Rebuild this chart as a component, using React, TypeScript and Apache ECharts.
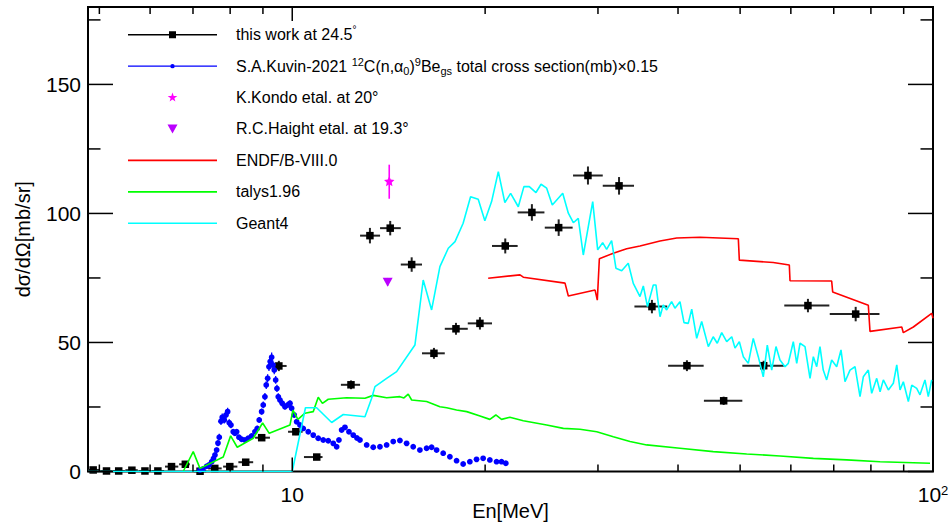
import React, { useEffect, useRef } from 'react';
import * as echarts from 'echarts';

const FONT = "'Liberation Sans', Arial, Helvetica, sans-serif";

// ---------- axis ranges & ticks ----------
const X_MIN = 4.8;
const X_MAX = 100;
const Y_MIN = 0;
const Y_MAX = 180;
const Y_INTERVAL = 50;
const xMajorTicks = [10, 100];
const xMinorTicks = [5, 6, 7, 8, 9, 20, 30, 40, 50, 60, 70, 80, 90];
const yMajorTicks = [0, 50, 100, 150];
const yMinorTicks = [25, 75, 125, 175];

// ---------- this work at 24.5 deg ----------
const thisWorkE = [4.89, 5.13, 5.36, 5.62, 5.89, 6.17, 6.48, 6.81, 7.18, 7.57, 7.99, 8.46, 8.96, 9.53, 10.13, 10.92, 12.35, 13.22, 14.22, 15.36, 16.64, 18.01, 19.63, 21.5, 23.66, 26.05, 28.94, 32.36, 36.42, 41.3, 47.13, 54.42, 63.8, 75.74];
const thisWorkELow = [4.8, 5.02, 5.25, 5.49, 5.76, 6.03, 6.33, 6.66, 7.02, 7.39, 7.8, 8.24, 8.75, 9.33, 9.85, 10.43, 11.91, 12.76, 13.71, 14.77, 15.94, 17.3, 18.79, 20.5, 22.48, 24.78, 27.43, 30.52, 34.2, 38.6, 43.9, 50.4, 58.6, 69.0];
const thisWorkEHigh = [5.0, 5.24, 5.48, 5.74, 6.02, 6.31, 6.64, 6.92, 7.34, 7.76, 8.21, 8.69, 9.23, 9.8, 10.38, 11.15, 12.76, 13.71, 14.77, 15.94, 17.3, 18.79, 20.5, 22.48, 24.75, 27.39, 30.52, 34.15, 38.48, 43.86, 50.4, 58.5, 68.9, 82.5];
const thisWorkXS = [0.6, 0.2, 0.2, 0.5, 0.2, 0.2, 1.9, 2.8, 0.1, 1.2, 1.9, 3.6, 13.1, 40.9, 15.4, 5.6, 33.6, 91.4, 94.3, 80.2, 45.8, 55.3, 57.4, 87.4, 100.4, 94.5, 114.7, 110.7, 63.9, 41.0, 27.4, 41.0, 64.3, 61.0];
const thisWorkErr = [0.3, 0.3, 0.3, 0.3, 0.3, 0.3, 0.6, 0.8, 0.3, 0.5, 0.6, 0.8, 1.2, 2.0, 1.3, 0.8, 1.7, 3.0, 2.8, 2.8, 2.1, 2.3, 2.4, 2.9, 3.2, 3.2, 3.5, 3.4, 2.6, 2.1, 1.6, 1.9, 2.6, 2.8];

// ---------- S.A.Kuvin-2021 (x0.15) ----------
const kuvinE = [7.178, 7.256, 7.353, 7.414, 7.486, 7.535, 7.575, 7.621, 7.657, 7.693, 7.74, 7.776, 7.832, 7.88, 7.928, 7.974, 8.023, 8.089, 8.139, 8.189, 8.257, 8.337, 8.437, 8.537, 8.642, 8.745, 8.818, 8.881, 8.958, 9.01, 9.065, 9.108, 9.154, 9.197, 9.24, 9.287, 9.331, 9.374, 9.422, 9.465, 9.51, 9.568, 9.647, 9.741, 9.836, 9.918, 9.978, 10.072, 10.159, 10.281, 10.403, 10.592, 10.784, 10.979, 11.178, 11.381, 11.587, 11.73, 11.827, 11.942, 12.085, 12.26, 12.451, 12.618, 12.755, 13.066, 13.379, 13.705, 14.038, 14.375, 14.725, 15.083, 15.445, 15.821, 16.206, 16.5, 16.799, 17.202, 17.621, 18.049, 18.482, 18.932, 19.393, 19.858, 20.342, 20.837, 21.214, 21.545];
const kuvinXS = [0.6, 1.0, 2.0, 2.5, 3.8, 5.0, 6.4, 8.3, 11.0, 13.3, 19.5, 21.0, 20.0, 21.9, 23.2, 18.9, 18.0, 15.4, 14.8, 15.4, 13.3, 12.5, 12.2, 12.9, 13.8, 15.4, 16.7, 20.0, 23.2, 25.8, 29.0, 33.5, 36.1, 40.6, 42.6, 44.3, 41.3, 39.3, 35.5, 32.2, 29.0, 27.7, 26.4, 25.1, 25.8, 26.4, 24.5, 21.9, 19.3, 18.0, 16.7, 15.4, 14.1, 12.9, 12.2, 11.9, 10.9, 9.6, 12.2, 16.1, 17.1, 15.4, 14.1, 13.0, 12.2, 10.3, 9.4, 9.6, 10.3, 11.6, 12.0, 10.9, 9.6, 8.3, 9.0, 9.4, 8.3, 7.1, 5.7, 4.2, 2.9, 3.8, 4.7, 5.1, 4.5, 3.8, 3.8, 3.2];
const kuvinErr = [0.4, 0.5, 0.6, 0.6, 0.7, 0.8, 0.9, 1.0, 1.2, 1.3, 1.5, 1.5, 1.4, 1.5, 1.5, 1.3, 1.2, 1.1, 1.0, 1.0, 0.9, 0.9, 0.8, 0.8, 0.9, 0.9, 1.0, 1.1, 1.2, 1.3, 1.4, 1.5, 1.6, 1.7, 1.8, 1.8, 1.7, 1.6, 1.5, 1.4, 1.3, 1.2, 1.2, 1.1, 1.2, 1.2, 1.1, 1.0, 0.9, 0.9, 0.8, 0.8, 0.7, 0.7, 0.7, 0.6, 0.6, 0.6, 0.6, 0.7, 0.7, 0.7, 0.7, 0.6, 0.6, 0.6, 0.5, 0.5, 0.6, 0.6, 0.6, 0.6, 0.5, 0.5, 0.5, 0.5, 0.5, 0.4, 0.4, 0.4, 0.3, 0.4, 0.4, 0.4, 0.4, 0.4, 0.4, 0.4];

// ---------- K.Kondo / R.C.Haight ----------
const kondoE = [14.17];
const kondoXS = [112.3];
const kondoErr = [6.6];
const haightE = [14.09];
const haightXS = [73.5];
const haightErr = [1.5];

// ---------- ENDF/B-VIII.0 ----------
const endfE = [20.22, 22.67, 22.94, 26.65, 26.97, 29.69, 29.93, 30.15, 31.7, 33.26, 34.89, 37.49, 39.81, 43.28, 49.68, 49.86, 56.32, 59.67, 59.82, 69.48, 69.73, 79.26, 79.74, 89.38, 89.89, 93.18, 99.53, 100.0];
const endfXS = [74.9, 76.2, 75.3, 73.0, 68.0, 70.3, 66.4, 82.4, 84.6, 86.3, 87.4, 89.3, 90.5, 90.8, 90.2, 81.9, 81.0, 80.0, 73.9, 73.8, 69.6, 64.4, 54.3, 56.0, 53.8, 56.0, 61.3, 59.4];

// ---------- talys1.96 ----------
const talysE = [6.758, 7.006, 7.178, 7.803, 8.014, 8.207, 8.692, 8.99, 9.207, 9.918, 10.025, 10.207, 10.467, 10.784, 10.979, 11.146, 11.381, 12.159, 12.986, 13.379, 14.038, 14.725, 14.94, 15.171, 15.358, 16.206, 17.0, 17.418, 18.049, 18.72, 19.634, 20.342, 20.785, 21.214, 21.857, 22.94, 24.95, 26.49, 28.12, 29.87, 31.7, 33.66, 35.74, 40.28, 45.39, 51.2, 57.7, 65.05, 73.33, 82.68, 98.93];
const talysXS = [0, 7.7, 1.2, 5.6, 13.8, 9.4, 12.9, 18.8, 14.8, 18.0, 23.8, 20.2, 22.6, 23.2, 28.8, 26.4, 28.0, 28.6, 28.4, 29.5, 28.6, 29.0, 28.5, 30.0, 27.7, 27.1, 25.1, 24.7, 23.8, 23.2, 21.5, 20.2, 21.9, 20.2, 21.0, 19.7, 18.0, 16.7, 16.4, 15.4, 13.5, 11.6, 10.3, 9.0, 7.7, 6.8, 6.0, 5.1, 4.5, 3.8, 3.2];

// ---------- Geant4 ----------
const geantE = [4.8, 10.0, 10.486, 10.916, 11.522, 12.013, 12.986, 13.302, 13.461, 14.038, 14.551, 15.54, 16.01, 16.5, 17.0, 17.52, 17.95, 18.48, 18.98, 19.51, 19.98, 20.47, 20.97, 21.47, 21.92, 22.53, 22.99, 23.44, 24.01, 24.45, 24.95, 25.46, 26.43, 26.97, 27.46, 27.95, 28.46, 29.44, 29.97, 30.51, 30.95, 31.51, 32.0, 32.67, 33.45, 34.06, 34.89, 35.31, 35.84, 36.6, 36.95, 37.49, 37.93, 38.4, 39.09, 39.56, 40.28, 40.87, 41.5, 42.02, 42.78, 43.55, 44.6, 45.39, 46.06, 46.8, 47.65, 48.52, 49.09, 49.86, 50.58, 51.49, 52.42, 53.37, 54.34, 55.13, 56.01, 56.88, 57.7, 58.75, 59.45, 60.53, 61.28, 62.01, 63.13, 64.28, 65.05, 65.84, 66.62, 67.41, 68.24, 69.48, 70.74, 71.85, 72.89, 74.21, 75.56, 76.93, 77.85, 79.26, 80.23, 81.69, 82.68, 83.66, 85.18, 86.72, 87.79, 88.83, 89.89, 91.52, 92.65, 94.31, 95.44, 97.16, 98.32, 99.53];
const geantXS = [0, 0, 24.7, 24.7, 19.0, 22.1, 21.2, 28.4, 32.9, 36.1, 38.7, 49.0, 74.2, 62.6, 79.4, 86.5, 89.1, 96.2, 106.5, 105.5, 97.2, 104.6, 116.2, 104.2, 107.8, 102.6, 110.4, 110.4, 108.1, 111.3, 109.8, 103.3, 107.8, 100.1, 96.4, 98.1, 83.9, 104.6, 85.9, 88.7, 86.1, 89.5, 78.8, 77.8, 80.7, 72.9, 67.8, 71.9, 63.9, 72.3, 72.3, 60.0, 64.5, 62.6, 65.8, 63.3, 65.8, 57.7, 57.4, 62.9, 51.6, 58.1, 48.4, 52.2, 49.7, 53.8, 50.3, 52.2, 47.8, 50.3, 44.5, 41.9, 51.6, 44.5, 36.7, 49.0, 39.3, 48.4, 43.2, 40.6, 41.9, 50.3, 41.9, 49.7, 48.4, 36.1, 44.5, 40.6, 48.4, 39.3, 35.5, 43.2, 40.6, 47.1, 34.8, 39.3, 40.6, 29.0, 36.7, 39.3, 30.3, 36.1, 30.9, 35.5, 31.6, 34.2, 41.3, 31.6, 34.8, 27.1, 33.5, 32.2, 29.7, 35.5, 29.0, 35.5];

// ---------- legend names ----------
const NAME_THIS = 'this work at 24.5°';
const NAME_KUVIN = 'S.A.Kuvin-2021 12C(n,α0)9Begs total cross section(mb)×0.15';
const NAME_KONDO = 'K.Kondo etal. at 20°';
const NAME_HAIGHT = 'R.C.Haight etal. at 19.3°';
const NAME_ENDF = 'ENDF/B-VIII.0';
const NAME_TALYS = 'talys1.96';
const NAME_GEANT = 'Geant4';

const legendRich: Record<string, string> = {
  [NAME_THIS]: 'this work at 24.5{deg|°}',
  [NAME_KUVIN]: 'S.A.Kuvin-2021 {sup|12}C(n,α{sub|0}){sup|9}Be{sub|gs} total cross section(mb)×0.15',
};

const C_BLACK = '#000000';
const C_BAR = '#222222';
const C_BLUE = '#0000ff';
const C_MAGENTA = '#ff00ff';
const C_VIOLET = '#bb00ff';
const C_RED = '#ff0000';
const C_GREEN = '#00ff00';
const C_CYAN = '#00ffff';

// legend icons in an 89 x 14 box (tiny corner squares pin the bounding box)
const BOX = 'M0,0h0.01v0.01h-0.01Z M88.99,13.99h0.01v0.01h-0.01Z';
const ICON_THIS = `path://${BOX} M0,6.25H89V7.75H0Z M41,3.5H48V10.5H41Z`;
const ICON_KUVIN = `path://${BOX} M0,6.4H89V7.6H0Z M42.3,7A2.2,2.2 0 1 1 46.7,7A2.2,2.2 0 1 1 42.3,7Z`;
const ICON_KONDO = `path://${BOX} M44.5,2L45.7,5.4L49.3,5.5L46.4,7.6L47.4,11L44.5,9L41.6,11L42.6,7.6L39.7,5.5L43.3,5.4Z`;
const ICON_HAIGHT = `path://${BOX} M39.5,2.5H49.5L44.5,11.5Z`;
const ICON_LINE = `path://${BOX} M0,6.2H89V7.8H0Z`;

function starPoints(cx: number, cy: number, ro: number, ri: number) {
  const pts: number[][] = [];
  for (let i = 0; i < 10; i++) {
    const a = -Math.PI / 2 + (i * Math.PI) / 5;
    const r = i % 2 === 0 ? ro : ri;
    pts.push([cx + r * Math.cos(a), cy + r * Math.sin(a)]);
  }
  return pts;
}

function buildOption(): any {
  const thisWorkData = thisWorkE.map((e, i) => [e, thisWorkELow[i], thisWorkEHigh[i], thisWorkXS[i], thisWorkErr[i]]);
  const kuvinData = kuvinE.map((e, i) => [e, kuvinXS[i], kuvinErr[i]]);
  const kondoData = kondoE.map((e, i) => [e, kondoXS[i], kondoErr[i]]);
  const haightData = haightE.map((e, i) => [e, haightXS[i], haightErr[i]]);

  const xTickData = [...xMinorTicks.map((v) => [v, 0, 0]), ...xMajorTicks.map((v) => [v, 0, 1])];
  const yTickData = [...yMinorTicks.map((v) => [10, v, 0]), ...yMajorTicks.map((v) => [10, v, 1])];

  const lineSeries = (name: string, xs: number[], ys: number[], color: string) => ({
    type: 'line',
    name,
    data: xs.map((e, i) => [e, ys[i]]),
    showSymbol: false,
    symbol: 'none',
    lineStyle: { color, width: 1.6 },
    itemStyle: { color },
    z: 3,
  });

  return {
    animation: false,
    backgroundColor: '#ffffff',
    textStyle: { fontFamily: FONT },
    grid: {
      left: 88,
      right: 17,
      top: 7,
      bottom: 56.5,
      containLabel: false,
      outerBoundsMode: 'none',
      show: true,
      borderColor: '#000',
      borderWidth: 2,
      backgroundColor: 'transparent',
    },
    legend: {
      orient: 'vertical',
      left: 128,
      top: 24.7,
      padding: 0,
      itemWidth: 89,
      itemHeight: 14,
      itemGap: 11.43,
      selectedMode: false,
      symbolKeepAspect: true,
      itemStyle: { borderWidth: 0 },
      textStyle: {
        fontSize: 16,
        fontFamily: FONT,
        color: '#000',
        lineHeight: 20,
        padding: [0, 0, 0, 14],
        rich: {
          sup: { fontSize: 11, lineHeight: 12, verticalAlign: 'top', fontFamily: FONT, color: '#000' },
          sub: { fontSize: 11, lineHeight: 10, verticalAlign: 'bottom', fontFamily: FONT, color: '#000' },
          deg: { fontSize: 10, lineHeight: 9, verticalAlign: 'top', fontFamily: FONT, color: '#000' },
        },
      },
      formatter: (name: string) => legendRich[name] ?? name,
      data: [
        { name: NAME_THIS, icon: ICON_THIS, itemStyle: { color: C_BLACK } },
        { name: NAME_KUVIN, icon: ICON_KUVIN, itemStyle: { color: C_BLUE } },
        { name: NAME_KONDO, icon: ICON_KONDO, itemStyle: { color: C_MAGENTA } },
        { name: NAME_HAIGHT, icon: ICON_HAIGHT, itemStyle: { color: C_VIOLET } },
        { name: NAME_ENDF, icon: ICON_LINE, itemStyle: { color: C_RED } },
        { name: NAME_TALYS, icon: ICON_LINE, itemStyle: { color: C_GREEN } },
        { name: NAME_GEANT, icon: ICON_LINE, itemStyle: { color: C_CYAN } },
      ],
    },
    xAxis: {
      type: 'log',
      logBase: 10,
      min: X_MIN,
      max: X_MAX,
      name: 'En[MeV]',
      nameLocation: 'middle',
      nameGap: 29,
      nameMoveOverlap: false,
      nameTextStyle: { fontSize: 20, color: '#000', fontFamily: FONT, verticalAlign: 'top' },
      axisLine: { show: false },
      axisTick: { show: false },
      splitLine: { show: false },
      minorTick: { show: false },
      axisLabel: {
        margin: 12,
        fontSize: 21,
        color: '#000',
        fontFamily: FONT,
        lineHeight: 22,
        showMinLabel: true,
        showMaxLabel: true,
        formatter: (v: number) => {
          const l = Math.log10(v);
          if (Math.abs(l - 1) < 1e-6) return '10';
          if (Math.abs(l - 2) < 1e-6) return '10{sup|2}';
          return '';
        },
        rich: {
          sup: { fontSize: 13, lineHeight: 13, verticalAlign: 'top', color: '#000', fontFamily: FONT },
        },
      },
    },
    yAxis: {
      type: 'value',
      min: Y_MIN,
      max: Y_MAX,
      interval: Y_INTERVAL,
      name: 'dσ/dΩ[mb/sr]',
      nameLocation: 'middle',
      nameRotate: 90,
      nameGap: 55,
      nameMoveOverlap: false,
      nameTextStyle: { fontSize: 20, color: '#000', fontFamily: FONT },
      axisLine: { show: false },
      axisTick: { show: false },
      splitLine: { show: false },
      axisLabel: {
        margin: 7,
        fontSize: 21,
        color: '#000',
        fontFamily: FONT,
        formatter: (v: number) => (yMajorTicks.indexOf(v) >= 0 ? String(v) : ''),
      },
    },
    series: [
      {
        type: 'custom',
        name: NAME_THIS,
        data: thisWorkData,
        encode: { x: [0, 1, 2], y: 3 },
        itemStyle: { color: C_BLACK },
        z: 2,
        renderItem: (params: any, api: any) => {
          const e = api.value(0);
          const lo = api.value(1);
          const hi = api.value(2);
          const v = api.value(3);
          const err = api.value(4);
          const c = api.coord([e, v]);
          const pl = api.coord([lo, v]);
          const ph = api.coord([hi, v]);
          const pt = api.coord([e, v + err]);
          const pb = api.coord([e, Math.max(0, v - err)]);
          return {
            type: 'group',
            children: [
              { type: 'line', shape: { x1: pl[0], y1: c[1], x2: ph[0], y2: c[1] }, style: { stroke: C_BAR, lineWidth: 2 } },
              { type: 'line', shape: { x1: c[0], y1: pt[1], x2: c[0], y2: pb[1] }, style: { stroke: C_BAR, lineWidth: 2 } },
              { type: 'rect', shape: { x: c[0] - 3.75, y: c[1] - 3.75, width: 7.5, height: 7.5 }, style: { fill: C_BLACK } },
            ],
          };
        },
      },
      {
        type: 'custom',
        name: NAME_KUVIN,
        data: kuvinData,
        encode: { x: 0, y: 1 },
        itemStyle: { color: C_BLUE },
        z: 2,
        renderItem: (params: any, api: any) => {
          const e = api.value(0);
          const v = api.value(1);
          const err = api.value(2);
          const c = api.coord([e, v]);
          const pt = api.coord([e, v + err]);
          const pb = api.coord([e, Math.max(0, v - err)]);
          return {
            type: 'group',
            children: [
              { type: 'line', shape: { x1: c[0], y1: pt[1], x2: c[0], y2: pb[1] }, style: { stroke: C_BLUE, lineWidth: 1.3 } },
              { type: 'circle', shape: { cx: c[0], cy: c[1], r: 2.9 }, style: { fill: C_BLUE } },
            ],
          };
        },
      },
      {
        type: 'custom',
        name: NAME_KONDO,
        data: kondoData,
        encode: { x: 0, y: 1 },
        itemStyle: { color: C_MAGENTA },
        z: 2,
        renderItem: (params: any, api: any) => {
          const e = api.value(0);
          const v = api.value(1);
          const err = api.value(2);
          const c = api.coord([e, v]);
          const pt = api.coord([e, v + err]);
          const pb = api.coord([e, v - err]);
          return {
            type: 'group',
            children: [
              { type: 'line', shape: { x1: c[0], y1: pt[1], x2: c[0], y2: pb[1] }, style: { stroke: C_MAGENTA, lineWidth: 1.6 } },
              { type: 'polygon', shape: { points: starPoints(c[0], c[1], 5.5, 2.6) }, style: { fill: C_MAGENTA } },
            ],
          };
        },
      },
      {
        type: 'custom',
        name: NAME_HAIGHT,
        data: haightData,
        encode: { x: 0, y: 1 },
        itemStyle: { color: C_VIOLET },
        z: 2,
        renderItem: (params: any, api: any) => {
          const e = api.value(0);
          const v = api.value(1);
          const err = api.value(2);
          const c = api.coord([e, v]);
          const pt = api.coord([e, v + err]);
          const pb = api.coord([e, v - err]);
          return {
            type: 'group',
            children: [
              { type: 'line', shape: { x1: c[0], y1: pt[1], x2: c[0], y2: pb[1] }, style: { stroke: C_VIOLET, lineWidth: 1.5 } },
              {
                type: 'polygon',
                shape: { points: [[c[0] - 5, c[1] - 4], [c[0] + 5, c[1] - 4], [c[0], c[1] + 5]] },
                style: { fill: C_VIOLET },
              },
            ],
          };
        },
      },
      lineSeries(NAME_ENDF, endfE, endfXS, C_RED),
      lineSeries(NAME_TALYS, talysE, talysXS, C_GREEN),
      lineSeries(NAME_GEANT, geantE, geantXS, C_CYAN),
      {
        type: 'custom',
        name: '_xticks',
        silent: true,
        data: xTickData,
        encode: { x: 0, y: 1 },
        z: 5,
        renderItem: (params: any, api: any) => {
          const cs = params.coordSys;
          const x = api.coord([api.value(0), Y_MIN])[0];
          const len = api.value(2) ? 14 : 7;
          const yb = cs.y + cs.height;
          const yt = cs.y;
          return {
            type: 'group',
            children: [
              { type: 'line', shape: { x1: x, y1: yb, x2: x, y2: yb - len }, style: { stroke: '#000', lineWidth: 1.5 } },
              { type: 'line', shape: { x1: x, y1: yt, x2: x, y2: yt + len }, style: { stroke: '#000', lineWidth: 1.5 } },
            ],
          };
        },
      },
      {
        type: 'custom',
        name: '_yticks',
        silent: true,
        data: yTickData,
        encode: { x: 0, y: 1 },
        z: 5,
        renderItem: (params: any, api: any) => {
          const cs = params.coordSys;
          const y = api.coord([10, api.value(1)])[1];
          const len = api.value(2) ? 25 : 12.5;
          const xl = cs.x;
          const xr = cs.x + cs.width;
          return {
            type: 'group',
            children: [
              { type: 'line', shape: { x1: xl, y1: y, x2: xl + len, y2: y }, style: { stroke: '#000', lineWidth: 1.5 } },
              { type: 'line', shape: { x1: xr, y1: y, x2: xr - len, y2: y }, style: { stroke: '#000', lineWidth: 1.5 } },
            ],
          };
        },
      },
    ],
  };
}

export default function App() {
  const ref = useRef<HTMLDivElement>(null);
  useEffect(() => {
    if (!ref.current) return;
    const chart = echarts.init(ref.current, null, { renderer: 'svg' });
    chart.setOption(buildOption());
    return () => {
      chart.dispose();
    };
  }, []);
  return (
    <div
      ref={ref}
      style={{ position: 'fixed', left: 0, top: 0, width: 950, height: 528, background: '#ffffff' }}
    />
  );
}
